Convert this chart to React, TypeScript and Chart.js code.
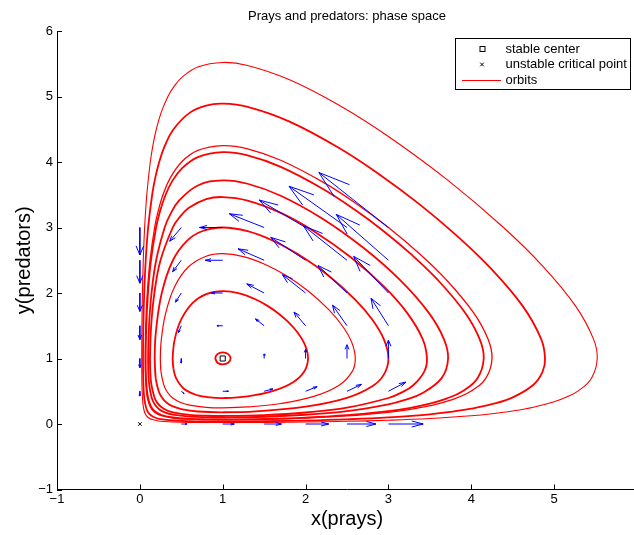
import React, { useEffect, useRef } from "react";
import { Chart, registerables } from "chart.js";

Chart.register(...registerables);

// ---------------- data ----------------
const TITLE = "Prays and predators: phase space";
const X_LABEL = "x(prays)";
const Y_LABEL = "y(predators)";
const X_MIN = -1;
const X_MAX = 6;
const Y_MIN = -1;
const Y_MAX = 6;
const LEGEND_LABELS = ["stable center", "unstable critical point", "orbits"];
const CENTER_POINT = [1, 1];
const CRITICAL_POINT = [0, 0];

// quiver grid and displayed arrow components (data units)
const QUIVER_X = [0, 0.5, 1, 1.5, 2, 2.5, 3];
const QUIVER_Y = [0, 0.5, 1, 1.5, 2, 2.5, 3];
const QUIVER_U = [
  [0, 0.07, 0.14, 0.21, 0.28, 0.35, 0.42],
  [0, 0.035, 0.07, 0.105, 0.14, 0.175, 0.21],
  [0, 0, 0, 0, 0, 0, 0],
  [0, -0.035, -0.07, -0.105, -0.14, -0.175, -0.21],
  [0, -0.07, -0.14, -0.21, -0.28, -0.35, -0.42],
  [0, -0.105, -0.21, -0.315, -0.42, -0.525, -0.63],
  [0, -0.14, -0.28, -0.42, -0.56, -0.7, -0.84],
];
const QUIVER_V = [
  [0, 0, 0, 0, 0, 0, 0],
  [-0.07, -0.035, 0, 0.035, 0.07, 0.105, 0.14],
  [-0.14, -0.07, 0, 0.07, 0.14, 0.21, 0.28],
  [-0.21, -0.105, 0, 0.105, 0.21, 0.315, 0.42],
  [-0.28, -0.14, 0, 0.14, 0.28, 0.42, 0.56],
  [-0.35, -0.175, 0, 0.175, 0.35, 0.525, 0.7],
  [-0.42, -0.21, 0, 0.21, 0.42, 0.63, 0.84],
];

// orbits (closed curves), points [x, y]
const ORBIT_1 = [[0.9107, 1], [0.9363, 0.9363], [1, 0.9107], [1.066, 0.9358], [1.095, 1], [1.0665, 1.0665], [1, 1.095], [0.9358, 1.066]];
const ORBIT_2 = [[0.396, 1], [0.405, 0.85], [0.437, 0.7], [0.535, 0.535], [0.7, 0.437], [0.85, 0.405], [1, 0.396], [1.3, 0.422], [1.6, 0.501], [1.85, 0.638], [1.984, 0.8], [2.03, 1], [1.995, 1.2], [1.901, 1.4], [1.796, 1.55], [1.68, 1.68], [1.55, 1.796], [1.4, 1.901], [1.2, 1.995], [1, 2.03], [0.8, 1.984], [0.638, 1.85], [0.501, 1.6], [0.422, 1.3]];
const ORBIT_3 = [[0.247, 1], [0.255, 0.8], [0.288, 0.6], [0.324, 0.5], [0.396, 0.396], [0.5, 0.324], [0.6, 0.288], [0.8, 0.255], [1, 0.247], [1.3, 0.26], [1.7, 0.313], [2.1, 0.421], [2.4, 0.587], [2.562, 0.8], [2.6, 1], [2.556, 1.25], [2.443, 1.5], [2.277, 1.75], [2.031, 2.031], [1.75, 2.277], [1.5, 2.443], [1.25, 2.556], [1, 2.6], [0.8, 2.562], [0.587, 2.4], [0.421, 2.1], [0.313, 1.7], [0.26, 1.3]];
const ORBIT_4 = [[0.179, 1], [0.191, 0.7], [0.2275, 0.5], [0.268, 0.4], [0.324, 0.324], [0.4, 0.268], [0.5, 0.2275], [0.7, 0.191], [1, 0.179], [1.4, 0.193], [2, 0.2645], [2.5, 0.399], [2.8, 0.5715], [2.943, 0.75], [3, 1], [2.943, 1.3], [2.802, 1.6], [2.598, 1.9], [2.271, 2.271], [1.9, 2.598], [1.6, 2.802], [1.3, 2.943], [1, 3], [0.75, 2.943], [0.5715, 2.8], [0.399, 2.5], [0.2645, 2], [0.193, 1.4]];
const ORBIT_5 = [[0.1225, 1], [0.1258, 0.8], [0.139, 0.6], [0.1775, 0.4], [0.2066, 0.33], [0.2586, 0.2586], [0.33, 0.2066], [0.4, 0.1775], [0.6, 0.139], [0.8, 0.1258], [1, 0.1225], [1.5, 0.1365], [2, 0.1755], [2.5, 0.2493], [3, 0.397], [3.15, 0.4748], [3.3, 0.592], [3.432, 0.8], [3.465, 1], [3.412, 1.3], [3.223, 1.7], [2.944, 2.1], [2.5455, 2.5455], [2.1, 2.944], [1.7, 3.223], [1.3, 3.412], [1, 3.465], [0.8, 3.432], [0.592, 3.3], [0.4748, 3.15], [0.397, 3], [0.2493, 2.5], [0.1755, 2], [0.1365, 1.5]];
const ORBIT_6 = [[0.0996, 1], [0.1022, 0.8], [0.1128, 0.6], [0.1427, 0.4], [0.1783, 0.3], [0.229, 0.229], [0.3, 0.1783], [0.4, 0.1427], [0.6, 0.1128], [0.8, 0.1022], [1, 0.0996], [1.5, 0.1107], [2, 0.1411], [2.5, 0.1968], [3, 0.2996], [3.2, 0.367], [3.4, 0.4656], [3.642, 0.7], [3.72, 1], [3.668, 1.3], [3.4855, 1.7], [3.1385, 2.2], [2.694, 2.694], [2.2, 3.1385], [1.7, 3.4855], [1.3, 3.668], [1, 3.72], [0.7, 3.642], [0.4656, 3.4], [0.367, 3.2], [0.2996, 3], [0.1968, 2.5], [0.1411, 2], [0.1107, 1.5]];
const ORBIT_7 = [[0.0702, 1], [0.072, 0.8], [0.0791, 0.6], [0.0991, 0.4], [0.1334, 0.27], [0.187, 0.187], [0.27, 0.1334], [0.4, 0.0991], [0.6, 0.0791], [0.8, 0.072], [1, 0.0702], [1.5, 0.0777], [2, 0.0981], [2.5, 0.1341], [3, 0.196], [3.25, 0.2437], [3.5, 0.3107], [3.7, 0.3878], [3.9, 0.5053], [4.075, 0.7], [4.15, 1], [4.1, 1.3], [3.925, 1.7], [3.595, 2.2], [3.266, 2.6], [2.943, 2.943], [2.6, 3.266], [2.2, 3.595], [1.7, 3.925], [1.3, 4.1], [1, 4.15], [0.7, 4.075], [0.5053, 3.9], [0.3878, 3.7], [0.3107, 3.5], [0.2437, 3.25], [0.196, 3], [0.1341, 2.5], [0.0981, 2], [0.0777, 1.5]];
const ORBIT_8 = [[0.0647, 1], [0.0663, 0.8], [0.0729, 0.6], [0.0911, 0.4], [0.1262, 0.26], [0.1785, 0.1785], [0.26, 0.1262], [0.4, 0.0911], [0.6, 0.0729], [0.8, 0.0663], [1, 0.0647], [1.5, 0.0716], [2, 0.0902], [2.5, 0.1229], [3, 0.1785], [3.25, 0.2207], [3.5, 0.2789], [3.75, 0.3639], [4, 0.5038], [4.176, 0.7], [4.25, 1], [4.2007, 1.3], [4.027, 1.7], [3.7, 2.2], [3.375, 2.6], [3, 3], [2.6, 3.375], [2.2, 3.7], [1.7, 4.027], [1.3, 4.2007], [1, 4.25], [0.7, 4.176], [0.5038, 4], [0.3639, 3.75], [0.2789, 3.5], [0.2207, 3.25], [0.1785, 3], [0.1229, 2.5], [0.0902, 2], [0.0716, 1.5]];
const ORBIT_9 = [[0.0382, 1], [0.0391, 0.8], [0.0429, 0.6], [0.0532, 0.4], [0.0749, 0.25], [0.0994, 0.18], [0.1328, 0.1328], [0.18, 0.0994], [0.25, 0.0749], [0.4, 0.0532], [0.6, 0.0429], [0.8, 0.0391], [1, 0.0382], [1.5, 0.0422], [2, 0.0527], [2.5, 0.0708], [3, 0.1001], [3.5, 0.1485], [3.75, 0.1845], [4, 0.2332], [4.25, 0.3018], [4.5, 0.4063], [4.75, 0.6], [4.861, 0.8], [4.89, 1], [4.8426, 1.3], [4.621, 1.8], [4.2175, 2.4], [3.803, 2.9], [3.365, 3.365], [2.9, 3.803], [2.4, 4.2175], [1.8, 4.621], [1.3, 4.8426], [1, 4.89], [0.8, 4.861], [0.6, 4.75], [0.4063, 4.5], [0.3018, 4.25], [0.2332, 4], [0.1845, 3.75], [0.1485, 3.5], [0.1001, 3], [0.0708, 2.5], [0.0527, 2], [0.0422, 1.5]];
const ORBIT_10 = [[0.0226, 1], [0.0232, 0.8], [0.0253, 0.6], [0.0313, 0.4], [0.038, 0.3], [0.05, 0.2113], [0.0675, 0.15], [0.0996, 0.0996], [0.15, 0.0675], [0.2113, 0.05], [0.3, 0.038], [0.4, 0.0313], [0.6, 0.0253], [0.8, 0.0232], [1, 0.0226], [1.5, 0.0249], [2, 0.031], [2.5, 0.0413], [3, 0.0577], [3.5, 0.0837], [4, 0.126], [4.25, 0.157], [4.5, 0.1984], [4.75, 0.2556], [5, 0.3389], [5.15, 0.4108], [5.3, 0.5142], [5.4507, 0.7], [5.52, 1], [5.474, 1.3], [5.2594, 1.8], [4.87, 2.4], [4.389, 3], [3.719, 3.719], [3, 4.389], [2.4, 4.87], [1.8, 5.2594], [1.3, 5.474], [1, 5.52], [0.7, 5.4507], [0.5142, 5.3], [0.4108, 5.15], [0.3389, 5], [0.2556, 4.75], [0.1984, 4.5], [0.157, 4.25], [0.126, 4], [0.0837, 3.5], [0.0577, 3], [0.0413, 2.5], [0.031, 2], [0.0249, 1.5]];

const ORBITS = [ORBIT_1, ORBIT_2, ORBIT_3, ORBIT_4, ORBIT_5, ORBIT_6, ORBIT_7, ORBIT_8, ORBIT_9, ORBIT_10];

// ---------------- style ----------------
const FONT = '"Liberation Sans", Arial, Helvetica, sans-serif';
const ORBIT_WIDTHS = [1.8, 1.8, 1.2, 1.8, 1.8, 1.8, 1.8, 1.3, 1.8, 1.1];
const RED = "#ff0000";
const BLUE = "#0000ff";
const HEAD_ALPHA = 0.33;
const HEAD_BETA = 0.33;

type P = { x: number | null; y: number | null };

function closedPath(pts: number[][]): P[] {
  const all = [...pts, pts[0], pts[1]];
  return all.map(([x, y]) => ({ x, y }));
}

function quiverPath(): P[] {
  const out: P[] = [];
  const gap: P = { x: null, y: null };
  QUIVER_Y.forEach((y, j) => {
    QUIVER_X.forEach((x, i) => {
      const u = QUIVER_U[j][i];
      const v = QUIVER_V[j][i];
      if (u === 0 && v === 0) return;
      const hx = x + u;
      const hy = y + v;
      out.push({ x, y }, { x: hx, y: hy }, gap);
      out.push(
        { x: hx - HEAD_ALPHA * (u + HEAD_BETA * v), y: hy - HEAD_ALPHA * (v - HEAD_BETA * u) },
        { x: hx, y: hy },
        { x: hx - HEAD_ALPHA * (u - HEAD_BETA * v), y: hy - HEAD_ALPHA * (v + HEAD_BETA * u) },
        gap
      );
    });
  });
  return out;
}

const fmt = (v: any) => (Number(v) < 0 ? "\u2212" + Math.abs(Number(v)) : String(v));

const inwardTicks = {
  id: "inwardTicks",
  afterDraw(chart: any) {
    const { ctx, chartArea: a, scales } = chart;
    const xs = scales.x;
    const ys = scales.y;
    ctx.save();
    ctx.strokeStyle = "#000";
    ctx.lineWidth = 1;
    ctx.beginPath();
    xs.ticks.forEach((t: any) => {
      const px = Math.round(xs.getPixelForValue(t.value)) + 0.5;
      ctx.moveTo(px, a.bottom);
      ctx.lineTo(px, a.bottom - 5);
    });
    ys.ticks.forEach((t: any) => {
      const py = Math.round(ys.getPixelForValue(t.value)) + 0.5;
      ctx.moveTo(a.left, py);
      ctx.lineTo(a.left + 5, py);
    });
    ctx.stroke();
    ctx.restore();
  },
};

const boxLegend = {
  id: "boxLegend",
  afterDraw(chart: any) {
    const { ctx } = chart;
    const left = 455.5;
    const top = 38.5;
    const w = 175;
    const h = 51;
    const rows = [49, 64.5, 80];
    const markX = 482;
    const textX = 505.5;
    ctx.save();
    ctx.fillStyle = "#fff";
    ctx.fillRect(left, top, w, h);
    ctx.strokeStyle = "#000";
    ctx.lineWidth = 1;
    ctx.strokeRect(left, top, w, h);
    ctx.strokeRect(markX - 2, rows[0] - 2.5, 5, 5);
    ctx.beginPath();
    ctx.moveTo(markX - 1.8, rows[1] - 1.8);
    ctx.lineTo(markX + 1.8, rows[1] + 1.8);
    ctx.moveTo(markX - 1.8, rows[1] + 1.8);
    ctx.lineTo(markX + 1.8, rows[1] - 1.8);
    ctx.stroke();
    ctx.strokeStyle = RED;
    ctx.beginPath();
    ctx.moveTo(462, rows[2] + 0.5);
    ctx.lineTo(501, rows[2] + 0.5);
    ctx.stroke();
    ctx.fillStyle = "#000";
    ctx.font = `13px ${FONT}`;
    ctx.textBaseline = "middle";
    ctx.textAlign = "left";
    LEGEND_LABELS.forEach((lab, i) => ctx.fillText(lab, textX, rows[i]));
    ctx.restore();
  },
};

export default function App() {
  const ref = useRef<HTMLCanvasElement>(null);
  useEffect(() => {
    const canvas = ref.current;
    if (!canvas) return;
    const datasets: any[] = [
      {
        label: LEGEND_LABELS[0],
        data: [{ x: CENTER_POINT[0], y: CENTER_POINT[1] }],
        pointStyle: "rect",
        pointRadius: 3.6,
        borderColor: "#000",
        backgroundColor: "rgba(0,0,0,0)",
        borderWidth: 1,
        showLine: false,
      },
      {
        label: LEGEND_LABELS[1],
        data: [{ x: CRITICAL_POINT[0], y: CRITICAL_POINT[1] }],
        pointStyle: "crossRot",
        pointRadius: 2.6,
        borderColor: "#000",
        borderWidth: 1,
        showLine: false,
      },
      {
        label: "field",
        data: quiverPath(),
        showLine: true,
        borderColor: BLUE,
        borderWidth: 1,
        pointRadius: 0,
        tension: 0,
        spanGaps: false,
      },
      ...ORBITS.map((o, i) => ({
        label: LEGEND_LABELS[2],
        data: closedPath(o),
        showLine: true,
        borderColor: RED,
        borderWidth: ORBIT_WIDTHS[i],
        pointRadius: 0,
        tension: 0.4,
        fill: false,
      })),
    ];
    const chart = new Chart(canvas, {
      type: "scatter",
      data: { datasets },
      options: {
        responsive: false,
        animation: false,
        devicePixelRatio: 1,
        events: [],
        layout: { padding: { left: 0, right: 7, top: 0, bottom: 0 } },
        plugins: {
          legend: { display: false },
          tooltip: { enabled: false },
          title: {
            display: true,
            text: TITLE,
            fullSize: false,
            color: "#000",
            font: { family: FONT, size: 13, weight: "normal", lineHeight: 1.2 },
            padding: { top: 8.4, bottom: 7 },
          },
        },
        scales: {
          x: {
            type: "linear",
            position: "bottom",
            min: X_MIN,
            max: X_MAX,
            afterFit: (s: any) => {
              s.height = 45.5;
            },
            grid: { display: false, drawTicks: false },
            border: { display: true, color: "#000", width: 1 },
            ticks: {
              stepSize: 1,
              color: "#000",
              font: { family: FONT, size: 13 },
              padding: 2,
              maxRotation: 0,
              autoSkip: false,
              callback: fmt,
            },
            title: {
              display: true,
              text: X_LABEL,
              color: "#000",
              font: { family: FONT, size: 20, lineHeight: 1.2 },
              padding: { top: 0, bottom: 4 },
            },
          },
          y: {
            type: "linear",
            position: "left",
            min: Y_MIN,
            max: Y_MAX,
            afterFit: (s: any) => {
              s.width = 57;
            },
            grid: { display: false, drawTicks: false },
            border: { display: true, color: "#000", width: 1 },
            ticks: {
              stepSize: 1,
              color: "#000",
              font: { family: FONT, size: 13 },
              padding: 4,
              autoSkip: false,
              callback: fmt,
            },
            title: {
              display: true,
              text: Y_LABEL,
              color: "#000",
              font: { family: FONT, size: 20, lineHeight: 1.2 },
              padding: { top: 12, bottom: 0 },
            },
          },
        },
      },
      plugins: [inwardTicks, boxLegend],
    } as any);
    return () => chart.destroy();
  }, []);
  return (
    <div
      style={{
        position: "fixed",
        left: 0,
        top: 0,
        width: 634,
        height: 535,
        overflow: "hidden",
        background: "#fff",
      }}
    >
      <canvas ref={ref} width={644} height={535} style={{ display: "block", width: 644, height: 535 }} />
    </div>
  );
}
